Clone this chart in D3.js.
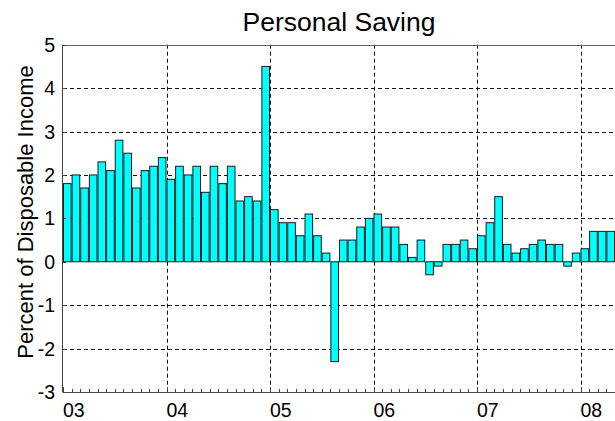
<!DOCTYPE html>
<html>
<head>
<meta charset="utf-8">
<script src="https://cdn.jsdelivr.net/npm/d3@7"></script>
<style>
  html, body { margin: 0; padding: 0; background: #fff; }
  svg { display: block; font-family: "Liberation Sans", Arial, sans-serif; }
</style>
</head>
<body>
<div id="chart"></div>
<script>
// ======================
// DATA
// ======================
const yearLabels = ["03", "04", "05", "06", "07", "08"];
const yTicks = [-3, -2, -1, 0, 1, 2, 3, 4, 5];

// monthly personal saving rate, Jan 2003 .. Apr 2008
const saving2003 = [1.8, 2.0, 1.7, 2.0, 2.3, 2.1, 2.8, 2.5, 1.7, 2.1, 2.2, 2.4];
const saving2004 = [1.9, 2.2, 2.0, 2.2, 1.6, 2.2, 1.8, 2.2, 1.4, 1.5, 1.4, 4.5];
const saving2005 = [1.2, 0.9, 0.9, 0.6, 1.1, 0.6, 0.2, -2.3, 0.5, 0.5, 0.8, 1.0];
const saving2006 = [1.1, 0.8, 0.8, 0.4, 0.1, 0.5, -0.3, -0.1, 0.4, 0.4, 0.5, 0.3];
const saving2007 = [0.6, 0.9, 1.5, 0.4, 0.2, 0.3, 0.4, 0.5, 0.4, 0.4, -0.1, 0.2];
const saving2008 = [0.3, 0.7, 0.7, 0.7];

const values = [].concat(saving2003, saving2004, saving2005, saving2006, saving2007, saving2008);

// ======================
// LAYOUT
// ======================
const width = 615, height = 421;
const plot = { left: 63, right: 615, top: 44.7, bottom: 392 };

const svg = d3.select("#chart").append("svg")
  .attr("width", width)
  .attr("height", height);

// month index scale (0 = Jan 2003)
const x = d3.scaleLinear()
  .domain([0, 64])
  .range([plot.left, plot.right]);

const y = d3.scaleLinear()
  .domain([-3, 5])
  .range([plot.bottom, plot.top]);

const monthW = x(1) - x(0);

// ======================
// GRID
// ======================
const grid = svg.append("g")
  .attr("stroke", "#111")
  .attr("stroke-width", 1)
  .attr("stroke-dasharray", "4,3");

grid.selectAll(".hgrid")
  .data(yTicks.filter(d => d !== -3 && d !== 0 && d !== 5))
  .enter().append("line")
  .attr("x1", plot.left)
  .attr("x2", plot.right)
  .attr("y1", d => Math.round(y(d)) + 0.5)
  .attr("y2", d => Math.round(y(d)) + 0.5);

grid.selectAll(".vgrid")
  .data(yearLabels.slice(1))
  .enter().append("line")
  .attr("x1", (d, i) => Math.round(x((i + 1) * 12)) + 0.5)
  .attr("x2", (d, i) => Math.round(x((i + 1) * 12)) + 0.5)
  .attr("y1", plot.top)
  .attr("y2", plot.bottom);

// ======================
// BARS
// ======================
svg.append("g")
  .selectAll("rect")
  .data(values)
  .enter().append("rect")
  .attr("x", (d, i) => x(i) + 0.5)
  .attr("width", monthW - 1)
  .attr("y", d => y(Math.max(0, d)))
  .attr("height", d => Math.abs(y(d) - y(0)))
  .attr("fill", "#00ffff")
  .attr("stroke", "#1a1a1a")
  .attr("stroke-width", 1);

// ======================
// AXES / FRAME
// ======================
const frame = svg.append("g").attr("stroke", "#444").attr("stroke-width", 1);

frame.append("line")
  .attr("x1", plot.left).attr("x2", plot.right)
  .attr("y1", Math.round(plot.top) + 0.5).attr("y2", Math.round(plot.top) + 0.5)
  .attr("stroke", "#666");

frame.append("line")
  .attr("x1", plot.left - 0.5).attr("x2", plot.left - 0.5)
  .attr("y1", plot.top).attr("y2", plot.bottom + 0.5);

frame.append("line")
  .attr("x1", plot.left).attr("x2", plot.right)
  .attr("y1", plot.bottom + 0.5).attr("y2", plot.bottom + 0.5);

// y ticks (inside)
frame.selectAll(".ytick")
  .data(yTicks)
  .enter().append("line")
  .attr("x1", plot.left).attr("x2", plot.left + 3)
  .attr("y1", d => Math.round(y(d)) + 0.5)
  .attr("y2", d => Math.round(y(d)) + 0.5);

// x month ticks (inside)
frame.selectAll(".xtick")
  .data(d3.range(0, 65))
  .enter().append("line")
  .attr("x1", d => Math.round(x(d)) + 0.5)
  .attr("x2", d => Math.round(x(d)) + 0.5)
  .attr("y1", plot.bottom)
  .attr("y2", d => plot.bottom - (d % 12 === 0 ? 5 : 3));

// y labels
svg.selectAll(".ylabel")
  .data(yTicks)
  .enter().append("text")
  .attr("x", 55)
  .attr("y", d => y(d) + 7)
  .attr("text-anchor", "end")
  .attr("font-size", 19.5)
  .attr("fill", "#000")
  .text(d => d);

// x labels
svg.selectAll(".xlabel")
  .data(yearLabels)
  .enter().append("text")
  .attr("x", (d, i) => x(i * 12))
  .attr("y", 417)
  .attr("text-anchor", "start")
  .attr("font-size", 19.5)
  .attr("fill", "#000")
  .text(d => d);

// title
svg.append("text")
  .attr("x", (plot.left + plot.right) / 2)
  .attr("y", 31)
  .attr("text-anchor", "middle")
  .attr("font-size", 26.5)
  .attr("fill", "#000")
  .text("Personal Saving");

// y axis title
svg.append("text")
  .attr("transform", "translate(33,212) rotate(-90)")
  .attr("text-anchor", "middle")
  .attr("font-size", 22)
  .attr("fill", "#000")
  .text("Percent of Disposable Income");
</script>
</body>
</html>
